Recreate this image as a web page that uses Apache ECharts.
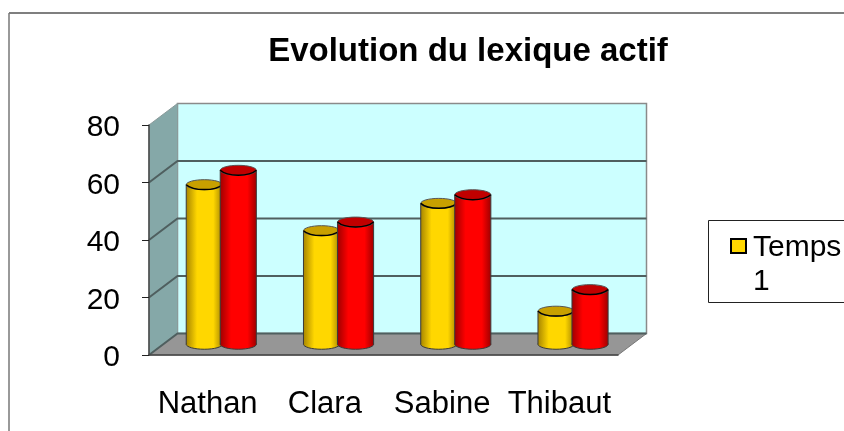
<!DOCTYPE html>
<html>
<head>
<meta charset="utf-8">
<title>Evolution du lexique actif</title>
<script src="https://cdn.jsdelivr.net/npm/echarts@6/dist/echarts.min.js"></script>
<style>
  html, body { margin: 0; padding: 0; background: #fff; }
  #chart { width: 844px; height: 431px; }
</style>
</head>
<body>
<div id="chart"></div>
<script>
const categories = ['Nathan', 'Clara', 'Sabine', 'Thibaut']
const temps1 = [55.5, 39.5, 49, 11.5]
const temps2 = [60.5, 42.5, 52, 19]
const yTicks = [0, 20, 40, 60, 80]

const fontFamily = '"Liberation Sans", Arial, sans-serif'
// depth of the fake 3d box, in pixels
const depthX = 28.5
const depthY = -21.5

function renderWalls(params, api) {
  const grid = params.coordSys
  const left = grid.x
  const right = grid.x + grid.width
  const y = v => api.coord([0, v])[1]
  const y0 = y(0)
  const y80 = y(80)
  const children = [
    {
      type: 'polygon',
      shape: { points: [[left + depthX, y80 + depthY], [right + depthX, y80 + depthY], [right + depthX, y0 + depthY], [left + depthX, y0 + depthY]] },
      style: { fill: '#CCFFFF', stroke: '#8a8a8a', lineWidth: 1.5 }
    },
    {
      type: 'polygon',
      shape: { points: [[left, y80], [left + depthX, y80 + depthY], [left + depthX, y0 + depthY], [left, y0]] },
      style: { fill: '#85A8A8', stroke: '#8a9a9a', lineWidth: 1 }
    },
    {
      type: 'polygon',
      shape: { points: [[left, y0], [left + depthX, y0 + depthY], [right + depthX, y0 + depthY], [right, y0]] },
      style: { fill: '#969696', stroke: '#777', lineWidth: 1 }
    }
  ]
  yTicks.forEach(v => {
    if (v === 80) return
    children.push({
      type: 'polyline',
      shape: { points: [[left, y(v)], [left + depthX, y(v) + depthY], [right + depthX, y(v) + depthY]] },
      style: { fill: 'none', stroke: '#4f5f5f', lineWidth: 2 }
    })
  })
  return { type: 'group', children }
}

function cylinder(shift, side, mid, cap) {
  return function (params, api) {
    const index = api.value(0)
    const band = api.size([1, 0])[0]
    const center = api.coord([index, 0])[0] + depthX / 2 + band * shift
    const base = api.coord([index, 0])[1] + depthY / 2
    const top = api.coord([index, api.value(1)])[1] + depthY / 2
    const rx = band * 0.154
    const ry = 5
    const fill = new echarts.graphic.LinearGradient(0, 0, 1, 0, [
      { offset: 0, color: side },
      { offset: 0.3, color: mid },
      { offset: 0.75, color: mid },
      { offset: 1, color: side }
    ])
    const edge = { stroke: '#3a3a3a', lineWidth: 1 }
    return {
      type: 'group',
      children: [
        { type: 'ellipse', shape: { cx: center, cy: base, rx, ry }, style: { fill, ...edge } },
        { type: 'rect', shape: { x: center - rx, y: top, width: rx * 2, height: base - top }, style: { fill, stroke: null } },
        { type: 'line', shape: { x1: center - rx, y1: top, x2: center - rx, y2: base }, style: edge },
        { type: 'line', shape: { x1: center + rx, y1: top, x2: center + rx, y2: base }, style: edge },
        { type: 'ellipse', shape: { cx: center, cy: top, rx, ry }, style: { fill: cap, stroke: '#555', lineWidth: 1 } },
        // darker front rim of the cap
        {
          type: 'bezierCurve',
          shape: { x1: center - rx, y1: top, cpx1: center - rx * 0.6, cpy1: top + ry * 1.3, cpx2: center + rx * 0.6, cpy2: top + ry * 1.3, x2: center + rx, y2: top },
          style: { fill: 'none', stroke: '#000', lineWidth: 1.5 }
        }
      ]
    }
  }
}

const chart = echarts.init(document.getElementById('chart'))
chart.setOption({
  animation: false,
  backgroundColor: '#fff',
  title: {
    text: 'Evolution du lexique actif',
    left: 463,
    top: 30,
    textAlign: 'center',
    textStyle: { fontFamily, fontSize: 33, fontWeight: 'bold', color: '#000' }
  },
  grid: { left: 149, top: 125, width: 469, height: 230 },
  xAxis: {
    type: 'category',
    data: categories,
    z: 5,
    axisLine: { lineStyle: { color: '#444', width: 1.5 } },
    axisTick: { length: 11, alignWithLabel: false, lineStyle: { color: '#222', width: 1 } },
    axisLabel: { interval: 0, margin: 34, fontFamily, fontSize: 31, color: '#000' }
  },
  yAxis: {
    type: 'value',
    min: 0,
    max: 80,
    interval: 20,
    z: 5,
    axisLine: { show: true, lineStyle: { color: '#444', width: 1.5 } },
    axisTick: { show: true, length: 7, lineStyle: { color: '#222', width: 1 } },
    axisLabel: { margin: 29, fontFamily, fontSize: 30, color: '#000', verticalAlign: 'top', lineHeight: 6 },
    splitLine: { show: false }
  },
  series: [
    { type: 'custom', name: 'walls', z: 1, silent: true, renderItem: renderWalls, data: [[0, 0]] },
    {
      type: 'custom',
      name: 'Temps 1',
      z: 2,
      encode: { x: 0, y: 1 },
      renderItem: cylinder(-0.15, '#A88600', '#FFD700', '#C8A000'),
      data: temps1.map((v, i) => [i, v])
    },
    {
      type: 'custom',
      name: 'Temps 2',
      z: 3,
      encode: { x: 0, y: 1 },
      renderItem: cylinder(0.14, '#A00000', '#FF0000', '#C00000'),
      data: temps2.map((v, i) => [i, v])
    }
  ],
  graphic: [
    { type: 'line', shape: { x1: 9, y1: 13, x2: 844, y2: 13 }, style: { stroke: '#555', lineWidth: 1.5 } },
    { type: 'line', shape: { x1: 9, y1: 13, x2: 9, y2: 431 }, style: { stroke: '#777', lineWidth: 1.5 } },
    { type: 'rect', shape: { x: 708.5, y: 220.5, width: 150, height: 82 }, style: { fill: '#fff', stroke: '#222', lineWidth: 1 } },
    { type: 'rect', shape: { x: 731, y: 239, width: 15, height: 14 }, style: { fill: '#FFD700', stroke: '#000', lineWidth: 2 } },
    {
      type: 'text',
      left: 753,
      top: 231,
      style: { text: 'Temps\n1', fontFamily: fontFamily, fontSize: 30, lineHeight: 34, fill: '#000' }
    }
  ]
})
</script>
</body>
</html>
